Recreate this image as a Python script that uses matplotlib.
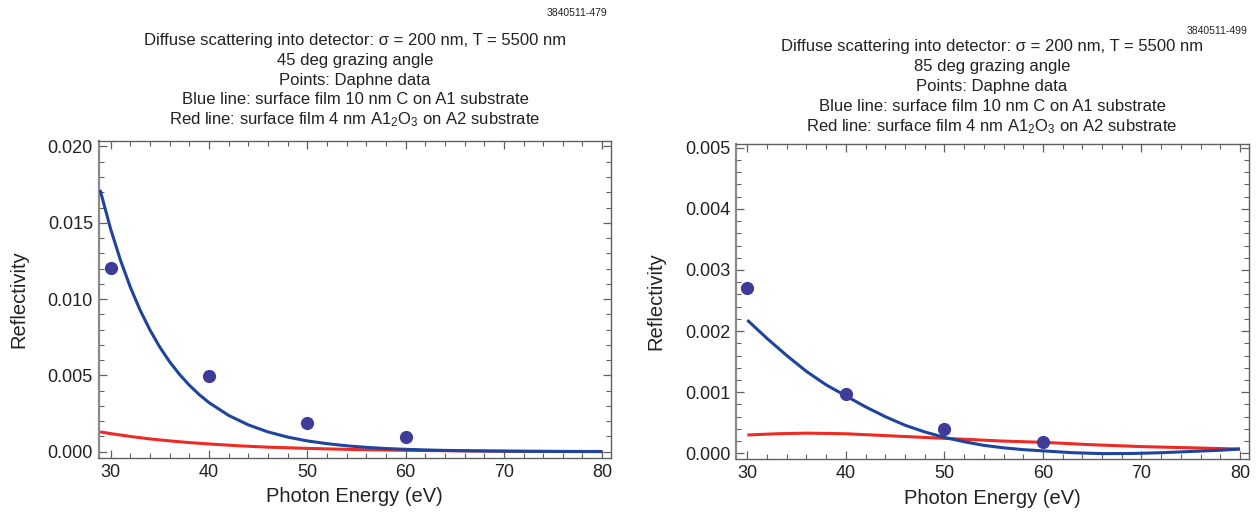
import matplotlib
matplotlib.use("Agg")
import matplotlib.pyplot as plt
from matplotlib.ticker import MultipleLocator, FormatStrFormatter

plt.rcParams["font.family"] = ["Liberation Sans", "DejaVu Sans"]
plt.rcParams["mathtext.fontset"] = "custom"
plt.rcParams["mathtext.rm"] = "Liberation Sans"
plt.rcParams["mathtext.it"] = "Liberation Sans:italic"

# ---- 45 deg grazing angle ----
data45_energy = [30, 40, 50, 60]
data45_refl = [0.01207, 0.00494, 0.00186, 0.00094]

blue45_energy = [28.92, 30, 31, 32, 33, 34, 35, 36, 37, 38, 39, 40, 42, 44, 46, 48,
                 50, 52, 54, 56, 58, 60, 63, 66, 70, 75, 80]
blue45_refl = [0.01716, 0.01458, 0.01254, 0.01078, 0.00927, 0.00797, 0.00685, 0.00589,
               0.00507, 0.00436, 0.00375, 0.00322, 0.00238, 0.00176, 0.00130, 0.00096,
               0.00071, 0.00053, 0.00039, 0.00029, 0.00021, 0.00016, 0.000101, 0.000064,
               0.000035, 0.000016, 0.000008]

red45_energy = [28.92, 30, 32, 34, 36, 38, 40, 43, 46, 50, 55, 60, 65, 70, 75, 80]
red45_refl = [0.00130, 0.00119, 0.00100, 0.00084, 0.00071, 0.00060, 0.00051, 0.00039,
              0.00030, 0.00022, 0.00014, 0.000093, 0.000061, 0.000040, 0.000026, 0.000017]

# ---- 85 deg grazing angle ----
data85_energy = [30, 40, 50, 60]
data85_refl = [0.00270, 0.00097, 0.00040, 0.00018]

blue85_energy = [30, 32, 34, 36, 38, 40, 42, 44, 46, 48, 50, 52, 54, 56, 58, 60,
                 63, 66, 69, 72, 75, 78, 80]
blue85_refl = [0.00218, 0.00188, 0.00160, 0.00134, 0.00112, 0.00094, 0.00076, 0.00060,
               0.00046, 0.00035, 0.00026, 0.00019, 0.00013, 0.00009, 0.00006, 0.00004,
               0.00001, -0.000005, -0.000003, 0.00001, 0.00003, 0.00005, 0.00007]

red85_energy = [30, 33, 36, 40, 44, 48, 52, 56, 60, 65, 70, 75, 80]
red85_refl = [0.00030, 0.00032, 0.00033, 0.00032, 0.00029, 0.00026, 0.00023, 0.00020,
              0.00018, 0.00014, 0.00011, 0.00009, 0.00007]

title_lines_45 = [
    "Diffuse scattering into detector: \u03c3 = 200 nm, T = 5500 nm",
    "45 deg grazing angle",
    "Points: Daphne data",
    "Blue line: surface film 10 nm C on A1 substrate",
    r"Red line: surface film 4 nm A1$_2$O$_3$ on A2 substrate",
]
title_lines_85 = [
    "Diffuse scattering into detector: \u03c3 = 200 nm, T = 5500 nm",
    "85 deg grazing angle",
    "Points: Daphne data",
    "Blue line: surface film 10 nm C on A1 substrate",
    r"Red line: surface film 4 nm A1$_2$O$_3$ on A2 substrate",
]

BLUE = "#1f449c"
RED = "#ee2a24"
POINT = "#3d3d99"
FRAME = "#606060"

W, H = 1260, 513
fig = plt.figure(figsize=(W / 100, H / 100), dpi=100)


def px_axes(x0, y0, x1, y1):
    return fig.add_axes([x0 / W, 1 - y1 / H, (x1 - x0) / W, (y1 - y0) / H])


def style(ax, ymajor, yminor, fmt):
    ax.xaxis.set_major_locator(MultipleLocator(10))
    ax.xaxis.set_minor_locator(MultipleLocator(2))
    ax.yaxis.set_major_locator(MultipleLocator(ymajor))
    ax.yaxis.set_minor_locator(MultipleLocator(yminor))
    ax.yaxis.set_major_formatter(FormatStrFormatter(fmt))
    ax.xaxis.set_major_formatter(FormatStrFormatter("%d"))
    ax.tick_params(which="both", direction="in", top=True, right=True,
                   color=FRAME, labelsize=13, labelcolor="#222222")
    ax.tick_params(which="major", length=6, width=0.9, pad=4)
    ax.tick_params(which="minor", length=3.5, width=0.8)
    for s in ax.spines.values():
        s.set_color(FRAME)
        s.set_linewidth(1.0)
    ax.spines["left"].set_color("#8a8a8a")
    ax.spines["left"].set_linewidth(1.6)
    ax.set_xlabel("Photon Energy (eV)", fontsize=14.5, color="#222222", labelpad=5)
    ax.set_ylabel("Reflectivity", fontsize=14.5, color="#222222", labelpad=14)


def draw(ax, be, br, re_, rr, de, dr):
    ax.plot(be, br, color=BLUE, lw=2.2, solid_capstyle="butt", zorder=3)
    ax.plot(re_, rr, color=RED, lw=2.2, solid_capstyle="butt", zorder=2)
    ax.plot(de, dr, "o", color=POINT, ms=8.5, mec=POINT, zorder=4)


axL = px_axes(98.5, 141, 611, 458)
draw(axL, blue45_energy, blue45_refl, red45_energy, red45_refl, data45_energy, data45_refl)
axL.set_xlim(28.76, 80.9)
axL.set_ylim(-0.00041, 0.02036)
style(axL, 0.005, 0.001, "%.3f")

axR = px_axes(736, 143.8, 1249, 459)
draw(axR, blue85_energy, blue85_refl, red85_energy, red85_refl, data85_energy, data85_refl)
axR.set_xlim(28.85, 80.91)
axR.set_ylim(-0.000093, 0.005065)
style(axR, 0.001, 0.0002, "%.3f")

# multi-line headers above each panel
for lines, xc, y0 in ((title_lines_45, 355, 40), (title_lines_85, 992, 47)):
    for i, t in enumerate(lines):
        fig.text(xc / W, 1 - (y0 + 20 * i) / H, t, ha="center", va="center",
                 fontsize=12, color="#222222")

fig.text(607 / W, 1 - 13 / H, "3840511-479", ha="right", va="center", fontsize=7.5,
         color="#222222")
fig.text(1248 / W, 1 - 31 / H, "3840511-499", ha="right", va="center", fontsize=7.5,
         color="#222222")

fig.savefig("out.png", dpi=100)
